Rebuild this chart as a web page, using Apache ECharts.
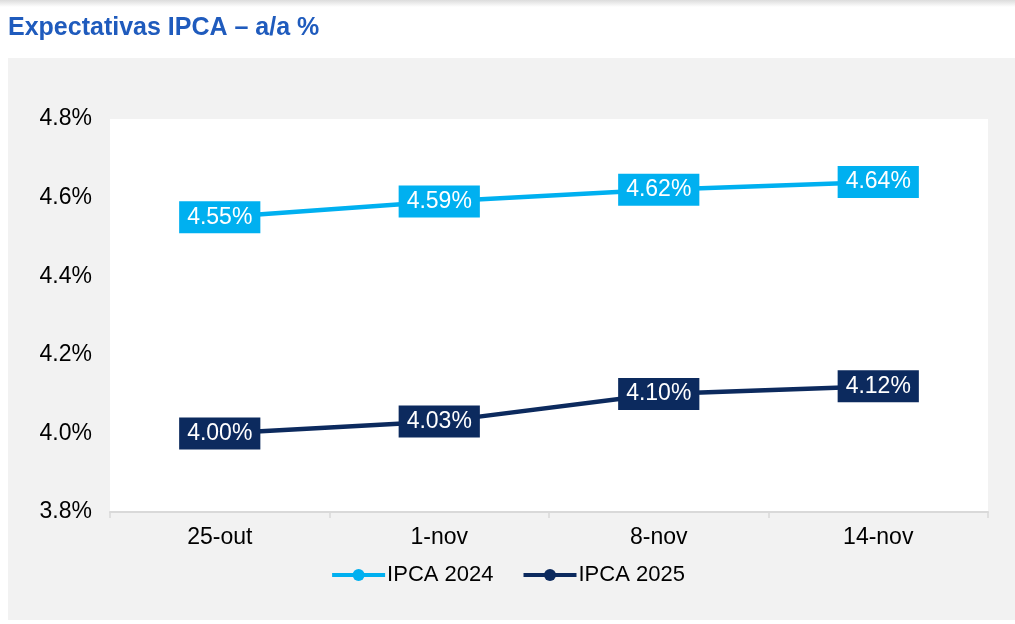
<!DOCTYPE html>
<html>
<head>
<meta charset="utf-8">
<script src="https://cdn.jsdelivr.net/npm/echarts@6/dist/echarts.min.js"></script>
<style>
html,body{margin:0;padding:0;background:#fff;}
#c{width:1015px;height:624px;}
</style>
</head>
<body>
<div id="c"></div>
<script>
const categories = ['25-out', '1-nov', '8-nov', '14-nov'];
const ipca2024 = [4.55, 4.59, 4.62, 4.64];
const ipca2025 = [4.00, 4.03, 4.10, 4.12];
const yTicks = { min: 3.8, max: 4.8, interval: 0.2 };

const FONT = 'Liberation Sans, Arial, sans-serif';
const chart = echarts.init(document.getElementById('c'), null, { renderer: 'canvas' });

function labelCfg(bg) {
  return {
    show: true,
    position: 'inside',
    formatter: p => p.value.toFixed(2) + '%',
    color: '#ffffff',
    fontFamily: FONT,
    fontSize: 23,
    backgroundColor: bg,
    padding: [4, 8, 3, 8],
    lineHeight: 25
  };
}

chart.setOption({
  animation: false,
  backgroundColor: '#ffffff',
  graphic: [
    {
      type: 'rect', z: -10, silent: true,
      shape: { x: 0, y: 0, width: 1015, height: 7 },
      style: { fill: new echarts.graphic.LinearGradient(0, 0, 0, 1, [
        { offset: 0, color: '#dcdcdc' }, { offset: 1, color: '#ffffff' }]) }
    },
    {
      type: 'rect', z: -10, silent: true,
      shape: { x: 8, y: 58, width: 1007, height: 562 },
      style: { fill: '#f2f2f2' }
    },
    {
      type: 'text', left: 8, top: 16,
      style: { text: 'Expectativas IPCA – a/a %', fill: '#1f5bbd', font: 'bold 25px ' + FONT }
    }
  ],
  grid: {
    left: 110, right: 27, top: 119, bottom: 112,
    show: true, backgroundColor: '#ffffff', borderWidth: 0
  },
  legend: {
    bottom: 33, left: 'center',
    itemWidth: 53, itemHeight: 15, itemGap: 28,
    lineStyle: { width: 4 },
    textStyle: { fontFamily: FONT, fontSize: 22, color: '#000000', padding: [0, 0, 0, -3] },
    data: ['IPCA 2024', 'IPCA 2025']
  },
  xAxis: {
    type: 'category',
    data: categories,
    boundaryGap: true,
    axisLine: { show: true, lineStyle: { color: '#d9d9d9', width: 2 } },
    axisTick: { show: true, length: 6, lineStyle: { color: '#d9d9d9', width: 1.5 } },
    axisLabel: { color: '#000000', fontFamily: FONT, fontSize: 23, margin: 14 },
    splitLine: { show: false }
  },
  yAxis: {
    type: 'value',
    min: yTicks.min, max: yTicks.max, interval: yTicks.interval,
    axisLine: { show: false },
    axisTick: { show: false },
    splitLine: { show: false },
    axisLabel: {
      color: '#000000', fontFamily: FONT, fontSize: 23, margin: 18,
      formatter: v => v.toFixed(1) + '%'
    }
  },
  series: [
    {
      name: 'IPCA 2024', type: 'line', data: ipca2024,
      symbol: 'circle', symbolSize: 11,
      itemStyle: { color: '#00b0f0' },
      lineStyle: { color: '#00b0f0', width: 4.5 },
      label: labelCfg('#00b0f0')
    },
    {
      name: 'IPCA 2025', type: 'line', data: ipca2025,
      symbol: 'circle', symbolSize: 11,
      itemStyle: { color: '#0c2a5e' },
      lineStyle: { color: '#0c2a5e', width: 4.5 },
      label: labelCfg('#0c2a5e')
    }
  ]
});
</script>
</body>
</html>
